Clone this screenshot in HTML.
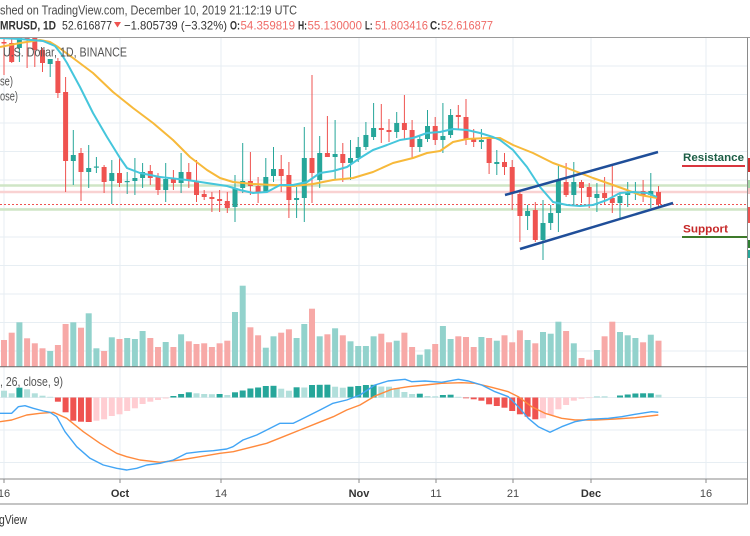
<!DOCTYPE html>
<html><head><meta charset="utf-8"><style>
html,body{margin:0;padding:0;background:#fff;}
svg{display:block;}
text{font-family:"Liberation Sans",sans-serif;}
</style></head><body>
<svg width="750" height="536" viewBox="0 0 750 536" xmlns="http://www.w3.org/2000/svg">
<defs><clipPath id="mp"><rect x="0" y="38" width="747" height="328.5"/></clipPath>
<clipPath id="mc"><rect x="0" y="367" width="747" height="112"/></clipPath></defs>
<rect width="750" height="536" fill="#fff"/>
<g stroke="#e7eef3" stroke-width="1">
<line x1="4" y1="38" x2="4" y2="479"/><line x1="120" y1="38" x2="120" y2="479"/><line x1="221" y1="38" x2="221" y2="479"/><line x1="359" y1="38" x2="359" y2="479"/><line x1="436" y1="38" x2="436" y2="479"/><line x1="513" y1="38" x2="513" y2="479"/><line x1="591" y1="38" x2="591" y2="479"/><line x1="706" y1="38" x2="706" y2="479"/>
<line x1="0" y1="66" x2="747" y2="66"/><line x1="0" y1="94.5" x2="747" y2="94.5"/><line x1="0" y1="123" x2="747" y2="123"/><line x1="0" y1="151.5" x2="747" y2="151.5"/><line x1="0" y1="180" x2="747" y2="180"/><line x1="0" y1="208.5" x2="747" y2="208.5"/><line x1="0" y1="237" x2="747" y2="237"/><line x1="0" y1="265.5" x2="747" y2="265.5"/><line x1="0" y1="294" x2="747" y2="294"/><line x1="0" y1="322.5" x2="747" y2="322.5"/><line x1="0" y1="351" x2="747" y2="351"/>
<line x1="0" y1="397.5" x2="747" y2="397.5"/><line x1="0" y1="430" x2="747" y2="430"/><line x1="0" y1="462.5" x2="747" y2="462.5"/>
</g>
<text x="0" y="14.5" font-size="12.5" fill="#4a4a4a" textLength="297" lengthAdjust="spacingAndGlyphs">shed on TradingView.com, December 10, 2019 21:12:19 UTC</text>
<g font-size="12">
<text x="0" y="29.5" font-weight="bold" fill="#333" textLength="56" lengthAdjust="spacingAndGlyphs">MRUSD, 1D</text>
<text x="62" y="29.5" fill="#333" textLength="50" lengthAdjust="spacingAndGlyphs">52.616877</text>
<polygon points="114,22 121,22 117.5,27.5" fill="#ef5350"/>
<text x="124" y="29.5" fill="#333" textLength="103" lengthAdjust="spacingAndGlyphs">−1.805739 (−3.32%)</text>
<text x="230" y="29.5" font-weight="bold" fill="#333" textLength="10" lengthAdjust="spacingAndGlyphs">O:</text>
<text x="240.5" y="29.5" fill="#ef6b67" textLength="54.5" lengthAdjust="spacingAndGlyphs">54.359819</text>
<text x="298" y="29.5" font-weight="bold" fill="#333" textLength="9" lengthAdjust="spacingAndGlyphs">H:</text>
<text x="307.5" y="29.5" fill="#ef6b67" textLength="54.5" lengthAdjust="spacingAndGlyphs">55.130000</text>
<text x="365" y="29.5" font-weight="bold" fill="#333" textLength="7.5" lengthAdjust="spacingAndGlyphs">L:</text>
<text x="375" y="29.5" fill="#ef6b67" textLength="53" lengthAdjust="spacingAndGlyphs">51.803416</text>
<text x="430" y="29.5" font-weight="bold" fill="#333" textLength="10.5" lengthAdjust="spacingAndGlyphs">C:</text>
<text x="441" y="29.5" fill="#ef6b67" textLength="52" lengthAdjust="spacingAndGlyphs">52.616877</text>
</g>
<g clip-path="url(#mp)">
<line x1="0" y1="185.5" x2="747" y2="185.5" stroke="#cfe5c6" stroke-width="2.5"/>
<line x1="0" y1="192" x2="747" y2="192" stroke="#f9d2d2" stroke-width="2.5"/>
<line x1="0" y1="209.5" x2="747" y2="209.5" stroke="#cfe5c6" stroke-width="2.5"/>
<line x1="0" y1="204.5" x2="747" y2="204.5" stroke="#ef5350" stroke-width="1" stroke-dasharray="2,2"/>
<g fill="#f7a9a7">
<rect x="1.0" y="340" width="6" height="26.5"/><rect x="8.7" y="332.7" width="6" height="33.8"/><rect x="24.1" y="338.3" width="6" height="28.2"/><rect x="31.8" y="343.3" width="6" height="23.2"/><rect x="39.5" y="348.3" width="6" height="18.2"/><rect x="54.9" y="345" width="6" height="21.5"/><rect x="62.6" y="324" width="6" height="42.5"/><rect x="78" y="327.7" width="6" height="38.8"/><rect x="101.1" y="351" width="6" height="15.5"/><rect x="116.5" y="339" width="6" height="27.5"/><rect x="147.3" y="338" width="6" height="28.5"/><rect x="155" y="347" width="6" height="19.5"/><rect x="170.4" y="347" width="6" height="19.5"/><rect x="185.8" y="341.3" width="6" height="25.2"/><rect x="193.5" y="344" width="6" height="22.5"/><rect x="201.2" y="343.3" width="6" height="23.2"/><rect x="208.9" y="347" width="6" height="19.5"/><rect x="216.6" y="343.3" width="6" height="23.2"/><rect x="224.3" y="340.7" width="6" height="25.8"/><rect x="247.4" y="327.3" width="6" height="39.2"/><rect x="255.1" y="335.3" width="6" height="31.2"/><rect x="278.2" y="332.7" width="6" height="33.8"/><rect x="285.9" y="329.3" width="6" height="37.2"/><rect x="309" y="308.7" width="6" height="57.8"/><rect x="324.4" y="334.3" width="6" height="32.2"/><rect x="339.8" y="335.3" width="6" height="31.2"/><rect x="378.3" y="333.7" width="6" height="32.8"/><rect x="386" y="342.3" width="6" height="24.2"/><rect x="401.4" y="332.7" width="6" height="33.8"/><rect x="409.1" y="347" width="6" height="19.5"/><rect x="432.2" y="344" width="6" height="22.5"/><rect x="455.3" y="336.3" width="6" height="30.2"/><rect x="463" y="337" width="6" height="29.5"/><rect x="470.7" y="347" width="6" height="19.5"/><rect x="486.1" y="338" width="6" height="28.5"/><rect x="501.5" y="335.3" width="6" height="31.2"/><rect x="509.2" y="342.3" width="6" height="24.2"/><rect x="516.9" y="330.3" width="6" height="36.2"/><rect x="532.3" y="343.3" width="6" height="23.2"/><rect x="563.1" y="331" width="6" height="35.5"/><rect x="578.5" y="358" width="6" height="8.5"/><rect x="586.2" y="359.7" width="6" height="6.8"/><rect x="601.6" y="336.3" width="6" height="30.2"/><rect x="609.3" y="321.7" width="6" height="44.8"/><rect x="640.1" y="342.3" width="6" height="24.2"/><rect x="655.5" y="340.7" width="6" height="25.8"/>
</g>
<g fill="#92d2cc">
<rect x="16.4" y="322.3" width="6" height="44.2"/><rect x="47.2" y="351" width="6" height="15.5"/><rect x="70.3" y="322.3" width="6" height="44.2"/><rect x="85.7" y="313.3" width="6" height="53.2"/><rect x="93.4" y="348.3" width="6" height="18.2"/><rect x="108.8" y="337.3" width="6" height="29.2"/><rect x="124.2" y="338" width="6" height="28.5"/><rect x="131.9" y="339" width="6" height="27.5"/><rect x="139.6" y="331" width="6" height="35.5"/><rect x="162.7" y="342" width="6" height="24.5"/><rect x="178.1" y="334.3" width="6" height="32.2"/><rect x="232" y="312" width="6" height="54.5"/><rect x="239.7" y="285.7" width="6" height="80.8"/><rect x="262.8" y="347.7" width="6" height="18.8"/><rect x="270.5" y="336.3" width="6" height="30.2"/><rect x="293.6" y="338" width="6" height="28.5"/><rect x="301.3" y="324" width="6" height="42.5"/><rect x="316.7" y="336.3" width="6" height="30.2"/><rect x="332.1" y="328.3" width="6" height="38.2"/><rect x="347.5" y="341.3" width="6" height="25.2"/><rect x="355.2" y="346" width="6" height="20.5"/><rect x="362.9" y="346" width="6" height="20.5"/><rect x="370.6" y="336.3" width="6" height="30.2"/><rect x="393.7" y="340.7" width="6" height="25.8"/><rect x="416.8" y="354.7" width="6" height="11.8"/><rect x="424.5" y="349.3" width="6" height="17.2"/><rect x="439.9" y="326" width="6" height="40.5"/><rect x="447.6" y="339" width="6" height="27.5"/><rect x="478.4" y="337" width="6" height="29.5"/><rect x="493.8" y="340.7" width="6" height="25.8"/><rect x="524.6" y="340" width="6" height="26.5"/><rect x="540" y="332" width="6" height="34.5"/><rect x="547.7" y="333.7" width="6" height="32.8"/><rect x="555.4" y="321.7" width="6" height="44.8"/><rect x="570.8" y="343.3" width="6" height="23.2"/><rect x="593.9" y="350" width="6" height="16.5"/><rect x="617" y="332" width="6" height="34.5"/><rect x="624.7" y="335.3" width="6" height="31.2"/><rect x="632.4" y="338" width="6" height="28.5"/><rect x="647.8" y="334.7" width="6" height="31.8"/>
</g>
<g fill="#ef5350">
<rect x="3.5" y="37" width="1" height="38"/><rect x="1.5" y="42" width="5" height="1.5"/>
<rect x="11.2" y="37" width="1" height="26"/><rect x="9.2" y="43" width="5" height="19"/>
<rect x="26.6" y="37" width="1" height="31"/><rect x="24.6" y="37" width="5" height="2"/>
<rect x="34.3" y="37" width="1" height="30"/><rect x="32.3" y="38" width="5" height="12"/>
<rect x="42" y="48" width="1" height="24"/><rect x="40" y="50" width="5" height="13"/>
<rect x="57.4" y="58" width="1" height="40"/><rect x="55.4" y="61" width="5" height="32"/>
<rect x="65.1" y="77" width="1" height="115"/><rect x="63.1" y="92" width="5" height="69"/>
<rect x="80.5" y="148" width="1" height="53"/><rect x="78.5" y="153" width="5" height="19"/>
<rect x="103.6" y="165" width="1" height="28"/><rect x="101.6" y="167" width="5" height="15"/>
<rect x="119" y="158" width="1" height="29"/><rect x="117" y="173" width="5" height="10"/>
<rect x="149.8" y="165" width="1" height="20"/><rect x="147.8" y="171" width="5" height="7"/>
<rect x="157.5" y="173" width="1" height="22"/><rect x="155.5" y="176" width="5" height="14"/>
<rect x="172.9" y="170" width="1" height="20"/><rect x="170.9" y="178" width="5" height="5"/>
<rect x="188.3" y="163" width="1" height="25"/><rect x="186.3" y="172" width="5" height="9"/>
<rect x="196" y="160" width="1" height="42"/><rect x="194" y="181" width="5" height="14"/>
<rect x="203.7" y="190" width="1" height="10"/><rect x="201.7" y="194" width="5" height="3"/>
<rect x="211.4" y="192" width="1" height="20"/><rect x="209.4" y="197" width="5" height="2"/>
<rect x="219.1" y="190" width="1" height="22"/><rect x="217.1" y="199" width="5" height="2"/>
<rect x="226.8" y="192" width="1" height="21"/><rect x="224.8" y="201" width="5" height="7"/>
<rect x="249.9" y="152" width="1" height="43"/><rect x="247.9" y="181" width="5" height="5"/>
<rect x="257.6" y="177" width="1" height="26"/><rect x="255.6" y="186" width="5" height="6"/>
<rect x="280.7" y="155" width="1" height="37"/><rect x="278.7" y="169" width="5" height="7"/>
<rect x="288.4" y="162" width="1" height="56"/><rect x="286.4" y="175" width="5" height="25"/>
<rect x="311.5" y="75" width="1" height="128"/><rect x="309.5" y="158" width="5" height="15"/>
<rect x="326.9" y="116" width="1" height="41"/><rect x="324.9" y="153" width="5" height="4"/>
<rect x="342.3" y="143" width="1" height="39"/><rect x="340.3" y="154" width="5" height="9"/>
<rect x="380.8" y="104" width="1" height="39"/><rect x="378.8" y="128" width="5" height="2"/>
<rect x="388.5" y="119" width="1" height="23"/><rect x="386.5" y="130" width="5" height="2"/>
<rect x="403.9" y="95" width="1" height="45"/><rect x="401.9" y="123" width="5" height="7"/>
<rect x="411.6" y="120" width="1" height="38"/><rect x="409.6" y="130" width="5" height="17"/>
<rect x="434.7" y="117" width="1" height="28"/><rect x="432.7" y="126" width="5" height="14"/>
<rect x="457.8" y="105" width="1" height="25"/><rect x="455.8" y="115" width="5" height="2"/>
<rect x="465.5" y="99" width="1" height="46"/><rect x="463.5" y="117" width="5" height="22"/>
<rect x="473.2" y="129" width="1" height="18"/><rect x="471.2" y="139" width="5" height="3"/>
<rect x="488.6" y="137" width="1" height="37"/><rect x="486.6" y="139" width="5" height="24"/>
<rect x="504" y="153" width="1" height="22"/><rect x="502" y="162" width="5" height="5"/>
<rect x="511.7" y="160" width="1" height="50"/><rect x="509.7" y="167" width="5" height="26"/>
<rect x="519.4" y="190" width="1" height="52"/><rect x="517.4" y="194" width="5" height="22"/>
<rect x="534.8" y="202" width="1" height="40"/><rect x="532.8" y="210" width="5" height="30"/>
<rect x="565.6" y="163" width="1" height="34"/><rect x="563.6" y="182" width="5" height="13"/>
<rect x="581" y="180" width="1" height="23"/><rect x="579" y="182" width="5" height="6"/>
<rect x="588.7" y="183" width="1" height="25"/><rect x="586.7" y="187" width="5" height="10"/>
<rect x="604.1" y="177" width="1" height="28"/><rect x="602.1" y="193" width="5" height="5"/>
<rect x="611.8" y="165" width="1" height="48"/><rect x="609.8" y="198" width="5" height="5"/>
<rect x="642.6" y="180" width="1" height="22"/><rect x="640.6" y="191" width="5" height="4"/>
<rect x="658" y="186" width="1" height="22"/><rect x="656" y="192" width="5" height="12"/>
</g>
<g fill="#26a69a">
<rect x="18.9" y="37" width="1" height="25"/><rect x="16.9" y="38" width="5" height="10"/>
<rect x="49.7" y="59" width="1" height="18"/><rect x="47.7" y="59" width="5" height="5"/>
<rect x="72.8" y="130" width="1" height="55"/><rect x="70.8" y="155" width="5" height="6"/>
<rect x="88.2" y="145" width="1" height="43"/><rect x="86.2" y="168" width="5" height="4"/>
<rect x="95.9" y="157" width="1" height="16"/><rect x="93.9" y="166.5" width="5" height="1.2"/>
<rect x="111.3" y="160" width="1" height="44"/><rect x="109.3" y="173" width="5" height="8"/>
<rect x="126.7" y="172" width="1" height="22"/><rect x="124.7" y="181" width="5" height="1.2"/>
<rect x="134.4" y="158" width="1" height="37"/><rect x="132.4" y="178" width="5" height="3"/>
<rect x="142.1" y="163" width="1" height="25"/><rect x="140.1" y="172" width="5" height="6"/>
<rect x="165.2" y="163" width="1" height="39"/><rect x="163.2" y="179" width="5" height="11"/>
<rect x="180.6" y="153" width="1" height="40"/><rect x="178.6" y="172" width="5" height="11"/>
<rect x="234.5" y="175" width="1" height="47"/><rect x="232.5" y="188" width="5" height="19"/>
<rect x="242.2" y="143" width="1" height="50"/><rect x="240.2" y="181" width="5" height="7"/>
<rect x="265.3" y="158" width="1" height="35"/><rect x="263.3" y="177" width="5" height="15"/>
<rect x="273" y="147" width="1" height="35"/><rect x="271" y="169" width="5" height="7"/>
<rect x="296.1" y="187" width="1" height="31"/><rect x="294.1" y="198" width="5" height="2"/>
<rect x="303.8" y="127" width="1" height="95"/><rect x="301.8" y="158" width="5" height="40"/>
<rect x="319.2" y="136" width="1" height="52"/><rect x="317.2" y="153" width="5" height="27"/>
<rect x="334.6" y="120" width="1" height="60"/><rect x="332.6" y="154" width="5" height="3"/>
<rect x="350" y="140" width="1" height="40"/><rect x="348" y="158" width="5" height="5"/>
<rect x="357.7" y="137" width="1" height="25"/><rect x="355.7" y="147" width="5" height="11"/>
<rect x="365.4" y="122" width="1" height="28"/><rect x="363.4" y="135" width="5" height="12"/>
<rect x="373.1" y="103" width="1" height="37"/><rect x="371.1" y="128" width="5" height="9"/>
<rect x="396.2" y="112" width="1" height="26"/><rect x="394.2" y="123" width="5" height="9"/>
<rect x="419.3" y="135" width="1" height="17"/><rect x="417.3" y="139" width="5" height="8"/>
<rect x="427" y="110" width="1" height="32"/><rect x="425" y="126" width="5" height="13"/>
<rect x="442.4" y="103" width="1" height="50"/><rect x="440.4" y="136" width="5" height="4"/>
<rect x="450.1" y="109" width="1" height="29"/><rect x="448.1" y="115" width="5" height="20"/>
<rect x="480.9" y="129" width="1" height="20"/><rect x="478.9" y="140" width="5" height="2"/>
<rect x="496.3" y="150" width="1" height="25"/><rect x="494.3" y="162" width="5" height="2"/>
<rect x="527.1" y="205" width="1" height="25"/><rect x="525.1" y="211" width="5" height="5"/>
<rect x="542.5" y="200" width="1" height="60"/><rect x="540.5" y="223" width="5" height="17"/>
<rect x="550.2" y="205" width="1" height="25"/><rect x="548.2" y="213" width="5" height="10"/>
<rect x="557.9" y="166" width="1" height="66"/><rect x="555.9" y="180" width="5" height="33"/>
<rect x="573.3" y="162" width="1" height="43"/><rect x="571.3" y="182" width="5" height="13"/>
<rect x="596.4" y="183" width="1" height="29"/><rect x="594.4" y="194" width="5" height="4"/>
<rect x="619.5" y="192" width="1" height="26"/><rect x="617.5" y="196" width="5" height="7"/>
<rect x="627.2" y="182" width="1" height="25"/><rect x="625.2" y="193" width="5" height="2"/>
<rect x="634.9" y="182" width="1" height="18"/><rect x="632.9" y="192" width="5" height="1.2"/>
<rect x="650.3" y="173" width="1" height="35"/><rect x="648.3" y="191" width="5" height="4"/>
</g>
<polyline fill="none" stroke="#f7b93a" stroke-width="2" stroke-linejoin="round" points="0,47 20,43 40,40 50,42 58,47 73,58 93,73 113,92 133,108 153,123 173,140 190,157 207,170 220,178 233,182 253,184 273,185 293,186 313,184 333,180 353,178 373,172 393,163 413,158 427,153 440,151 453,142 467,139 487,138 500,138 513,145 533,153 553,163 567,168 580,173 593,178 613,185 627,190 640,195 657,198"/>
<polyline fill="none" stroke="#45c6dc" stroke-width="2" stroke-linejoin="round" points="0,38 20,39 43,41 55,46 62,55 67,63 80,87 93,113 107,137 120,158 127,168 140,173 160,177 187,180 207,183 227,186 240,190 253,193 267,192 280,185 293,185 307,182 320,173 333,171 347,167 360,158 373,150 387,145 400,140 413,138 427,133 440,132 453,129 467,130 480,133 493,137 500,140 513,150 527,167 540,187 553,202 567,205 580,206 593,205 607,200 620,193 633,192 647,193 657,197"/>
<line x1="505" y1="195" x2="658" y2="152" stroke="#1f4e99" stroke-width="2.5"/>
<line x1="520" y1="249" x2="673" y2="203" stroke="#1f4e99" stroke-width="2.5"/>
<text x="683" y="161" font-size="11" font-weight="bold" fill="#1d5e46" textLength="61" lengthAdjust="spacingAndGlyphs">Resistance</text>
<line x1="682" y1="166" x2="745" y2="166" stroke="#d9363e" stroke-width="2"/>
<text x="683" y="232.5" font-size="11" font-weight="bold" fill="#c62828" textLength="45" lengthAdjust="spacingAndGlyphs">Support</text>
<line x1="682" y1="237" x2="747" y2="237" stroke="#3d7a2a" stroke-width="2"/>
<text x="3" y="56.5" font-size="12.5" fill="#555" textLength="124" lengthAdjust="spacingAndGlyphs">U.S. Dollar, 1D, BINANCE</text>
<text x="0" y="85.5" font-size="12.5" fill="#555" textLength="13" lengthAdjust="spacingAndGlyphs">se)</text>
<text x="0" y="100.5" font-size="12.5" fill="#555" textLength="18" lengthAdjust="spacingAndGlyphs">ose)</text>
</g>
<g clip-path="url(#mc)">
<g fill="#26a69a">
<rect x="16.4" y="387.7" width="6" height="9.8"/><rect x="170.4" y="396" width="6" height="1.5"/><rect x="178.1" y="394" width="6" height="3.5"/><rect x="185.8" y="392.3" width="6" height="5.2"/><rect x="216.6" y="394" width="6" height="3.5"/><rect x="232" y="392.3" width="6" height="5.2"/><rect x="239.7" y="390.5" width="6" height="7"/><rect x="247.4" y="388.5" width="6" height="9"/><rect x="255.1" y="387.5" width="6" height="10"/><rect x="262.8" y="386" width="6" height="11.5"/><rect x="270.5" y="385.8" width="6" height="11.7"/><rect x="293.6" y="387.3" width="6" height="10.2"/><rect x="309" y="385" width="6" height="12.5"/><rect x="316.7" y="384.8" width="6" height="12.7"/><rect x="324.4" y="384.7" width="6" height="12.8"/><rect x="347.5" y="386.7" width="6" height="10.8"/><rect x="355.2" y="386" width="6" height="11.5"/><rect x="362.9" y="385" width="6" height="12.5"/><rect x="370.6" y="384.8" width="6" height="12.7"/><rect x="416.8" y="393.7" width="6" height="3.8"/><rect x="439.9" y="395" width="6" height="2.5"/><rect x="447.6" y="394.7" width="6" height="2.8"/><rect x="617" y="395.5" width="6" height="2"/><rect x="624.7" y="394.5" width="6" height="3"/><rect x="632.4" y="393.5" width="6" height="4"/><rect x="640.1" y="393.3" width="6" height="4.2"/><rect x="647.8" y="393.3" width="6" height="4.2"/>
</g>
<g fill="#b2dfdb">
<rect x="1" y="390.7" width="6" height="6.8"/><rect x="8.7" y="393.3" width="6" height="4.2"/><rect x="24.1" y="389.3" width="6" height="8.2"/><rect x="31.8" y="393.3" width="6" height="4.2"/><rect x="39.5" y="395.7" width="6" height="1.8"/><rect x="47.2" y="396.8" width="6" height="0.7"/><rect x="193.5" y="393.3" width="6" height="4.2"/><rect x="201.2" y="394" width="6" height="3.5"/><rect x="208.9" y="394.2" width="6" height="3.3"/><rect x="224.3" y="395" width="6" height="2.5"/><rect x="278.2" y="388.7" width="6" height="8.8"/><rect x="285.9" y="390.7" width="6" height="6.8"/><rect x="301.3" y="387.5" width="6" height="10"/><rect x="332.1" y="386.7" width="6" height="10.8"/><rect x="339.8" y="387.7" width="6" height="9.8"/><rect x="378.3" y="386.5" width="6" height="11"/><rect x="386" y="386.7" width="6" height="10.8"/><rect x="393.7" y="388" width="6" height="9.5"/><rect x="401.4" y="392" width="6" height="5.5"/><rect x="409.1" y="394" width="6" height="3.5"/><rect x="424.5" y="396" width="6" height="1.5"/><rect x="432.2" y="396.3" width="6" height="1.2"/><rect x="455.3" y="396.8" width="6" height="0.7"/><rect x="593.9" y="396.3" width="6" height="1.2"/><rect x="601.6" y="396.3" width="6" height="1.2"/><rect x="655.5" y="394.7" width="6" height="2.8"/>
</g>
<g fill="#ef5350">
<rect x="54.9" y="397.5" width="6" height="4.2"/><rect x="62.6" y="397.5" width="6" height="14.8"/><rect x="70.3" y="397.5" width="6" height="23.2"/><rect x="78" y="397.5" width="6" height="24.2"/><rect x="85.7" y="397.5" width="6" height="24.5"/><rect x="463" y="397.5" width="6" height="0.8"/><rect x="470.7" y="397.5" width="6" height="1.8"/><rect x="478.4" y="397.5" width="6" height="3.2"/><rect x="486.1" y="397.5" width="6" height="6.8"/><rect x="493.8" y="397.5" width="6" height="8.5"/><rect x="501.5" y="397.5" width="6" height="10.2"/><rect x="509.2" y="397.5" width="6" height="13.5"/><rect x="516.9" y="397.5" width="6" height="16.8"/><rect x="524.6" y="397.5" width="6" height="19.2"/><rect x="532.3" y="397.5" width="6" height="21.8"/>
</g>
<g fill="#ffcdd2">
<rect x="93.4" y="397.5" width="6" height="23.2"/><rect x="101.1" y="397.5" width="6" height="21.8"/><rect x="108.8" y="397.5" width="6" height="18.5"/><rect x="116.5" y="397.5" width="6" height="16.8"/><rect x="124.2" y="397.5" width="6" height="13.5"/><rect x="131.9" y="397.5" width="6" height="10.8"/><rect x="139.6" y="397.5" width="6" height="6.5"/><rect x="147.3" y="397.5" width="6" height="4.2"/><rect x="155" y="397.5" width="6" height="2.5"/><rect x="162.7" y="397.5" width="6" height="1"/><rect x="540" y="397.5" width="6" height="20.8"/><rect x="547.7" y="397.5" width="6" height="17.5"/><rect x="555.4" y="397.5" width="6" height="11.8"/><rect x="563.1" y="397.5" width="6" height="7.5"/><rect x="570.8" y="397.5" width="6" height="3.2"/><rect x="578.5" y="397.5" width="6" height="1.2"/><rect x="586.2" y="397.5" width="6" height="0.6"/>
</g>
<polyline fill="none" stroke="#ff8a3d" stroke-width="1.4" stroke-linejoin="round" points="0,421.7 11.7,420 26.7,415 40,413.3 53.3,412.3 66.7,418.3 83.3,431.7 100,443.3 116.7,453.3 126.7,456.7 140,460 160,462.3 180,460 200,456.7 220,453.3 233.3,451.7 246.7,448.3 266.7,443.3 283.3,436.7 300,430 316.7,423.3 333.3,416.7 346.7,410 360,405 375,396 391.7,389.3 408.3,386.7 425,385 441.7,383.3 461.7,382.7 475,383.3 491.7,387.3 508.3,391.7 518.3,396.7 531.7,406.7 545,413.3 561.7,418.3 575,420 595,420 615,419 635,417.7 658.3,415"/>
<polyline fill="none" stroke="#42a5f5" stroke-width="1.4" stroke-linejoin="round" points="0,413.3 11.7,413.3 18.3,406.7 25,405.7 33.3,408.3 43.3,411 50,412.3 56.7,416.7 65,431.7 76.7,446.7 90,458.3 103.3,465 116.7,468.3 126.7,470 136.7,468.3 146.7,465 160,463.3 173.3,460 186.7,453.3 200,451.7 213.3,450.7 226.7,449 233,446.7 243,440 256.7,435 266.7,430 280,423.3 293.3,423.3 300,420 310,415 320,410 333,403.3 346.7,400 360,395 375,385 388,381 405,379.3 411.7,381.7 425,381 441.7,382.3 458.3,379.3 468.3,381 481.7,385 495,391.7 508.3,396.7 518.3,406.7 528.3,418.3 538.3,426.7 550,432.3 561.7,426.7 575,421.7 588.3,419.3 608.3,418.3 621.7,416.7 635,414.3 651.7,411.7 658.3,412.3"/>
<text x="0" y="386" font-size="12.5" fill="#555" textLength="63" lengthAdjust="spacingAndGlyphs">, 26, close, 9)</text>
</g>
<line x1="0" y1="37.5" x2="750" y2="37.5" stroke="#9a9a9a" stroke-width="1"/>
<line x1="0" y1="366.8" x2="747" y2="366.8" stroke="#6a6a6a" stroke-width="1"/>
<line x1="0" y1="479" x2="747" y2="479" stroke="#8a8a8a" stroke-width="1"/>
<line x1="0" y1="504" x2="748" y2="504" stroke="#8a8a8a" stroke-width="1"/>
<line x1="747.5" y1="37.5" x2="747.5" y2="504" stroke="#8a8a8a" stroke-width="1"/>
<rect x="748" y="158" width="2" height="14" fill="#d32f2f"/>
<rect x="748" y="180" width="2" height="8" fill="#a5d6a7"/>
<rect x="748" y="188" width="2" height="6" fill="#f8c4c4"/>
<rect x="748" y="207" width="2" height="16" fill="#ef5350"/>
<rect x="748" y="240" width="2" height="8" fill="#2e7d32"/>
<rect x="748" y="250" width="2" height="8" fill="#26a69a"/>
<g stroke="#8a8a8a" stroke-width="1">
<line x1="4" y1="479" x2="4" y2="483"/><line x1="120" y1="479" x2="120" y2="483"/><line x1="221" y1="479" x2="221" y2="483"/><line x1="359" y1="479" x2="359" y2="483"/><line x1="436" y1="479" x2="436" y2="483"/><line x1="513" y1="479" x2="513" y2="483"/><line x1="591" y1="479" x2="591" y2="483"/><line x1="706" y1="479" x2="706" y2="483"/>
</g>
<g font-size="11" fill="#4a4a4a" text-anchor="middle">
<text x="4" y="497">16</text>
<text x="120" y="497" font-weight="bold" fill="#333">Oct</text>
<text x="221" y="497">14</text>
<text x="359" y="497" font-weight="bold" fill="#333">Nov</text>
<text x="436" y="497">11</text>
<text x="513" y="497">21</text>
<text x="591" y="497" font-weight="bold" fill="#333">Dec</text>
<text x="706" y="497">16</text>
</g>
<text x="-1" y="524" font-size="13" fill="#333" textLength="28" lengthAdjust="spacingAndGlyphs">gView</text>
</svg>
</body></html>
